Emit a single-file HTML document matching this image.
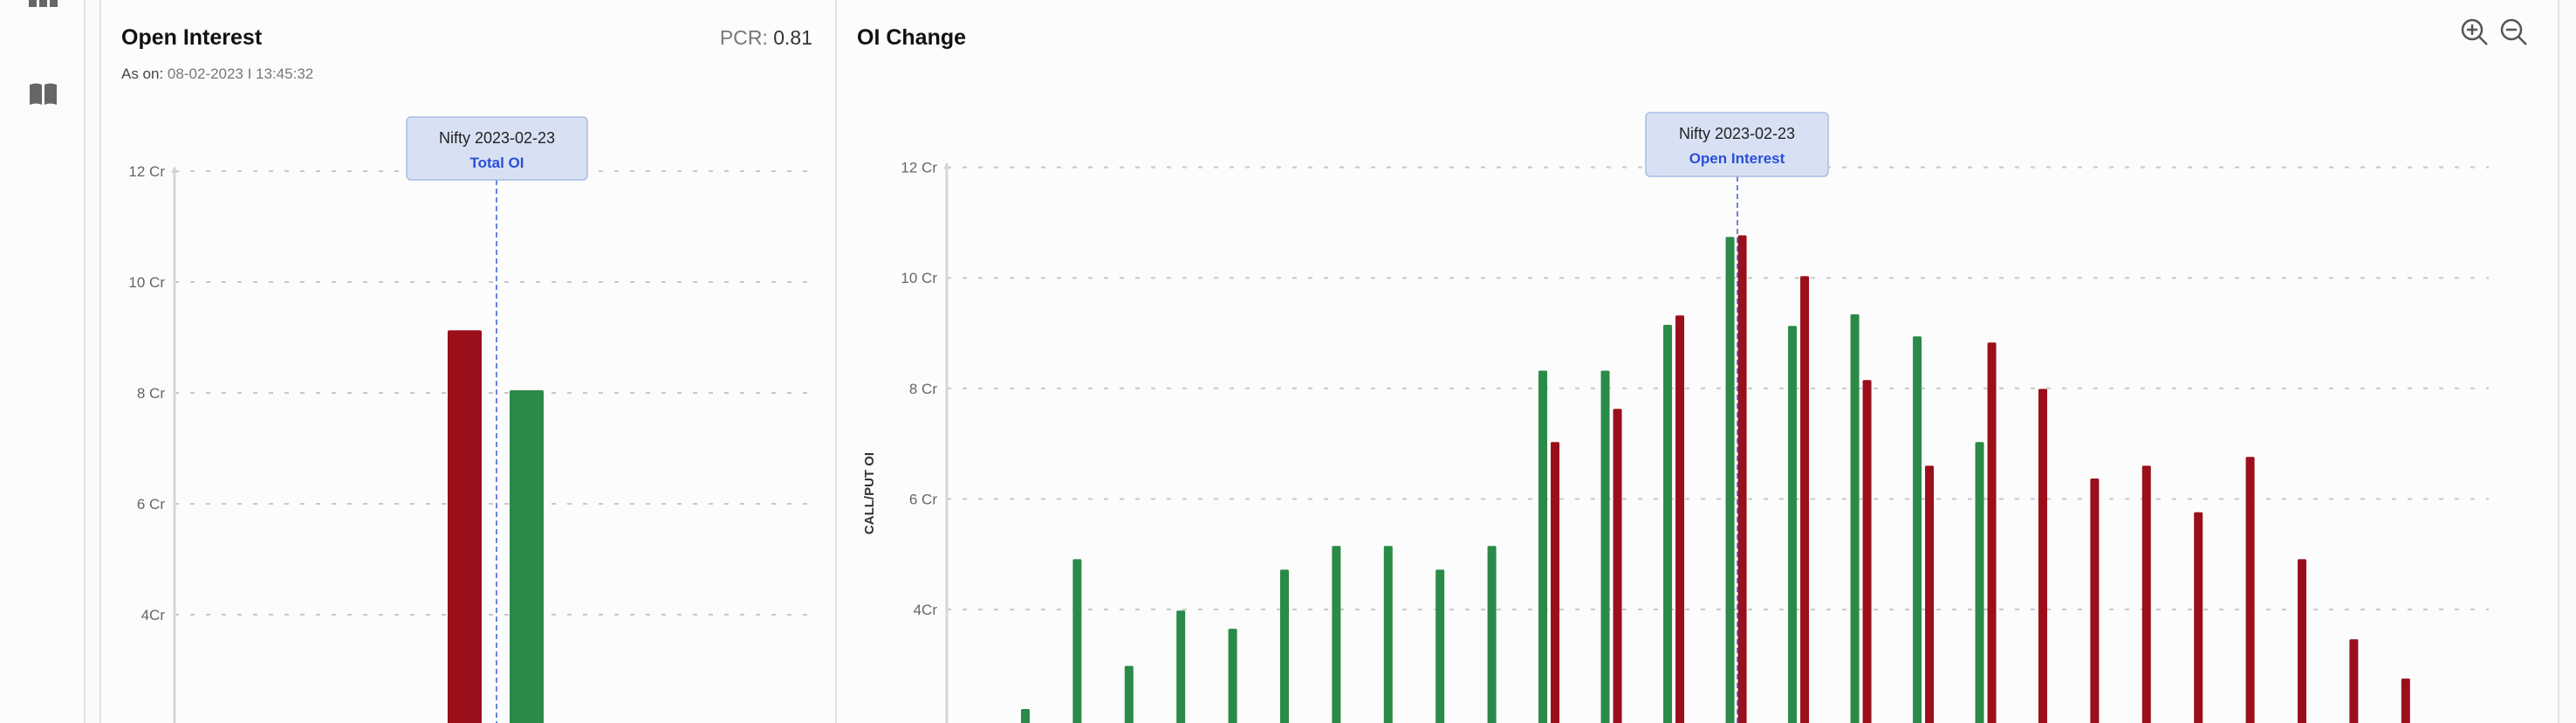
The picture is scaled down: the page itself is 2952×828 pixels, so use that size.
<!DOCTYPE html>
<html><head><meta charset="utf-8">
<style>
html,body{margin:0;padding:0;width:2952px;height:828px;overflow:hidden;background:#fafafa;font-family:"Liberation Sans",Arial,sans-serif;}
svg{display:block}
</style></head>
<body>
<svg id="root" width="2952" height="828" viewBox="0 0 2952 828" xmlns="http://www.w3.org/2000/svg">
  <rect x="0" y="0" width="2952" height="828" fill="#fafafa"/>
  <g>
    <rect x="0" y="0" width="97" height="828" fill="#fbfbfb"/>
    <line x1="97" y1="0" x2="97" y2="828" stroke="#e2e2e2" stroke-width="2"/>
    <g fill="#666">
      <rect x="33" y="0" width="9" height="8"/><rect x="45" y="0" width="9" height="8"/><rect x="57" y="0" width="9" height="8"/>
    </g>
    <g fill="#666">
      <path d="M34 97 Q42 94 48 97 L48 120 Q42 117 34 120 Z"/>
      <path d="M51 97 Q57 94 65 97 L65 120 Q57 117 51 120 Z"/>
    </g>
  </g>
  <g>
    <rect x="115" y="-4" width="843" height="840" fill="#fcfcfc" stroke="#e2e2e2" stroke-width="2"/>
    <text x="139" y="51" font-size="25" font-weight="bold" fill="#111">Open Interest</text>
    <text x="139" y="90" font-size="17" fill="#777"><tspan fill="#444">As on:</tspan> 08-02-2023 I 13:45:32</text>
    <text x="931" y="51" font-size="23" fill="#777" text-anchor="end">PCR: <tspan fill="#333">0.81</tspan></text>
    <g id="leftChart"></g>
  </g>
  <g>
    <rect x="958" y="-4" width="1974" height="840" fill="#fcfcfc" stroke="#e2e2e2" stroke-width="2"/>
    <text x="982" y="51" font-size="25" font-weight="bold" fill="#111">OI Change</text>
    <g fill="none" stroke="#555" stroke-width="2.5">
      <circle cx="2833" cy="34" r="11"/><line x1="2841" y1="42" x2="2850" y2="51"/>
      <line x1="2827" y1="34" x2="2839" y2="34"/><line x1="2833" y1="28" x2="2833" y2="40"/>
    </g>
    <g fill="none" stroke="#555" stroke-width="2.5">
      <circle cx="2878" cy="34" r="11"/><line x1="2886" y1="42" x2="2895" y2="51"/>
      <line x1="2872" y1="34" x2="2884" y2="34"/>
    </g>
    <text transform="translate(1001,565) rotate(-90)" font-size="15" font-weight="bold" fill="#333" text-anchor="middle">CALL/PUT OI</text>
    <g id="rightChart"></g>
  </g>
</svg>
<script>
// ---- Left chart data ----
const totalLabels = ["Put OI", "Call OI"];
const totalValues = [9.13, 8.05];
const yTicks = [4, 6, 8, 10, 12];
const yTickLabels = ["4Cr", "6 Cr", "8 Cr", "10 Cr", "12 Cr"];
// ---- Right chart data (crore) ----
const strikeCats = ["s1","s2","s3","s4","s5","s6","s7","s8","s9","s10","s11","s12","s13","s14","s15","s16","s17","s18","s19","s20","s21","s22","s23","s24","s25","s26"];
const callOI = [2.2,4.91,2.98,3.98,3.65,4.72,5.15,5.15,4.72,5.15,8.32,8.32,9.15,10.74,9.13,9.34,8.94,7.03,null,null,null,null,null,null,null,null];
const putOI  = [null,null,null,null,null,null,null,null,null,null,7.03,7.63,9.32,10.77,10.03,8.15,6.6,8.83,7.99,6.37,6.6,5.76,6.76,4.91,3.46,2.75];

const NS = "http://www.w3.org/2000/svg";
function mk(parent, tag, attrs){const e=document.createElementNS(NS,tag);for(const k in attrs)e.setAttribute(k,attrs[k]);parent.appendChild(e);return e;}
const GREEN="#2a8a47", RED="#9a0f1a";

function drawAxes(g, axisX, gridEnd, yScale, axisName){
  yTicks.forEach((t,i)=>{
    const y=yScale(t);
    const ln=mk(g,"line",{x1:axisX,y1:y,x2:gridEnd,y2:y,stroke:"#c8c8c8","stroke-width":2,"stroke-dasharray":"5 13"});
    
    
    const tx=mk(g,"text",{x:axisX-11,y:y+6,"font-size":17,fill:"#666","text-anchor":"end"});
    tx.textContent=yTickLabels[i];
    
    
  });
  const ax=mk(g,"line",{x1:axisX,y1:yScale(12)-4,x2:axisX,y2:828,stroke:"#d6d6d6","stroke-width":3});
  
  
  const ar=mk(g,"path",{d:`M${axisX-4} ${yScale(12)+2} L${axisX} ${yScale(12)-6} L${axisX+4} ${yScale(12)+2} Z`,fill:"#d6d6d6"});
  
  
}
function tooltip(g, x1, y1, w, h, line1, line2, lineX, name){
  const tg=mk(g,"g",{});
  
  
  mk(tg,"line",{x1:lineX,y1:y1+h,x2:lineX,y2:828,stroke:"#3a5bd0","stroke-width":1.5,"stroke-dasharray":"6 4"});
  mk(tg,"rect",{x:x1,y:y1,width:w,height:h,rx:5,fill:"#d8e1f4",stroke:"#a9bde6","stroke-width":1.5});
  const a=mk(tg,"text",{x:x1+w/2,y:y1+30,"font-size":18,fill:"#222","text-anchor":"middle"});a.textContent=line1;
  const b=mk(tg,"text",{x:x1+w/2,y:y1+58,"font-size":17,"font-weight":"bold",fill:"#2a4fd6","text-anchor":"middle"});b.textContent=line2;
}

// Left
(function(){
  const g=document.getElementById("leftChart");
  const y=v=>704-(v-4)*63.5;
  drawAxes(g,200,932,y,"left-y-axis");
  const x0=513, step=71, bw=39;
  totalValues.forEach((v,i)=>{
    const r=mk(g,"rect",{x:x0+i*step,y:y(v),width:bw,height:828-y(v)+10,rx:2,fill:i===0?RED:GREEN});
    
    
  });
  tooltip(g,466,134,207,72,"Nifty 2023-02-23","Total OI",569,"total-oi-tooltip");
})();

// Right
(function(){
  const g=document.getElementById("rightChart");
  const y=v=>698-(v-4)*63.3;
  drawAxes(g,1085,2852,y,"right-y-axis");
  const slot=12.1, gap=47.3, bw=10, off=7;
  let cursor=1175-slot/2-0; let centers=[];
  let prevHalf=null;
  strikeCats.forEach((c,i)=>{
    const n=(callOI[i]!=null?1:0)+(putOI[i]!=null?1:0);
    const half=n*slot/2;
    if(prevHalf===null){cursor=1175;} else {cursor+=prevHalf+gap+half;}
    centers.push(cursor); prevHalf=half;
  });
  strikeCats.forEach((c,i)=>{
    const both=callOI[i]!=null&&putOI[i]!=null;
    if(callOI[i]!=null){
      const cx=both?centers[i]-off:centers[i];
      const r=mk(g,"rect",{x:cx-bw/2,y:y(callOI[i]),width:bw,height:828-y(callOI[i])+10,rx:1.5,fill:GREEN});
      
      
    }
    if(putOI[i]!=null){
      const cx=both?centers[i]+off:centers[i];
      const r=mk(g,"rect",{x:cx-bw/2,y:y(putOI[i]),width:bw,height:828-y(putOI[i])+10,rx:1.5,fill:RED});
      
      
    }
  });
  tooltip(g,1886,129,209,73,"Nifty 2023-02-23","Open Interest",1991,"open-interest-tooltip");
})();
</script>
</body></html>
